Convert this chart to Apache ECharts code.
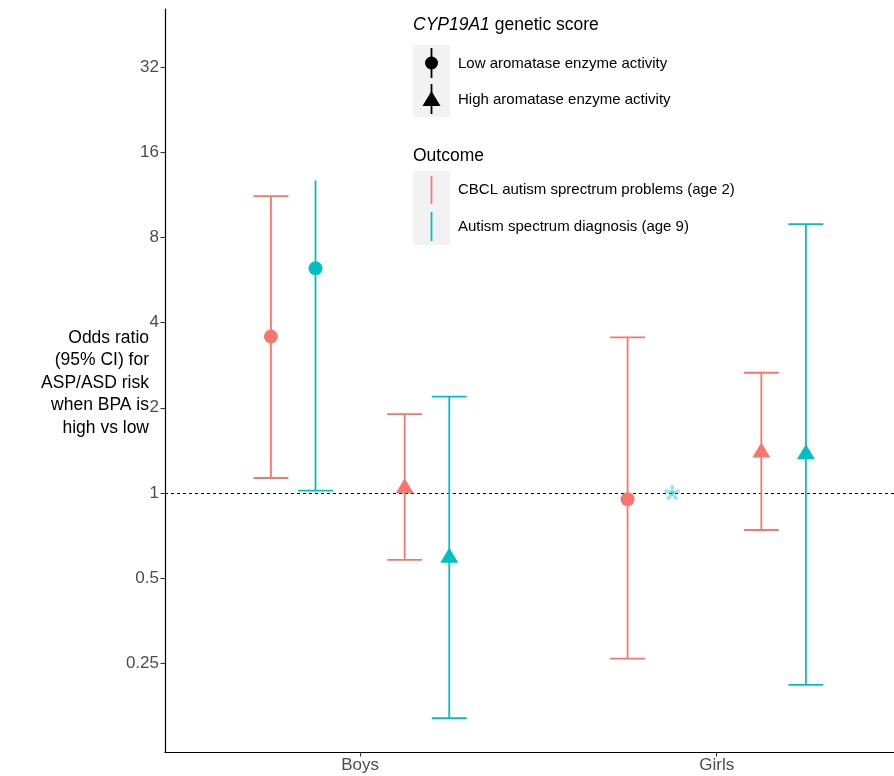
<!DOCTYPE html>
<html>
<head>
<meta charset="utf-8">
<style>
  html, body { margin: 0; padding: 0; background: #fff; }
  #chart-container { width: 894px; height: 776px; }
</style>
<script src="https://cdn.jsdelivr.net/npm/echarts@6.0.0/dist/echarts.min.js"></script>
</head>
<body>
<div id="chart-container"></div>
<script>
// Categories and tick labels
const categories = ["Boys", "Girls"];
const yTicks = [0.25, 0.5, 1, 2, 4, 8, 16, 32];

// Low aromatase activity, CBCL (age 2)
const orLowCbcl = [3.57, 0.95];
const loLowCbcl = [1.13, 0.26];
const hiLowCbcl = [11.2, 3.55];
// Low aromatase activity, ASD diagnosis (age 9); girls not estimable
const orLowAsd = [6.22, null];
const loLowAsd = [1.02, null];
const hiLowAsd = [12.7, null];
const capLowAsd = [false, true];
const notEstimable = [null, 1];
// High aromatase activity, CBCL (age 2)
const orHighCbcl = [1.04, 1.39];
const loHighCbcl = [0.58, 0.74];
const hiHighCbcl = [1.90, 2.66];
// High aromatase activity, ASD diagnosis (age 9)
const orHighAsd = [0.59, 1.37];
const loHighAsd = [0.16, 0.21];
const hiHighAsd = [2.19, 8.92];

const RED = "#F8766D";
const TEAL = "#00BFC4";
const FONT = "'Liberation Sans', Arial, Helvetica, sans-serif";
const dodge = [-0.25, -0.125, 0.125, 0.25];
const capHalf = 0.049;

function barData(lo, hi, off, caps) {
  const out = [];
  categories.forEach((c, i) => {
    if (lo[i] == null) return;
    out.push([i + 1 + off, lo[i], hi[i], caps ? (caps[i] ? 1 : 0) : 1]);
  });
  return out;
}
function pointData(or, off) {
  const out = [];
  categories.forEach((c, i) => {
    if (or[i] == null) return;
    out.push([i + 1 + off, or[i]]);
  });
  return out;
}

function renderErrorBar(params, api) {
  const x = api.value(0), lo = api.value(1), hi = api.value(2), capHi = api.value(3);
  const style = { stroke: api.visual("color"), lineWidth: 1.8 };
  const pLo = api.coord([x, lo]), pHi = api.coord([x, hi]);
  const children = [
    { type: "line", shape: { x1: pLo[0], y1: pLo[1], x2: pHi[0], y2: pHi[1] }, style: style }
  ];
  const a = api.coord([x - capHalf, lo]), b = api.coord([x + capHalf, lo]);
  children.push({ type: "line", shape: { x1: a[0], y1: a[1], x2: b[0], y2: b[1] }, style: style });
  if (capHi) {
    const c = api.coord([x - capHalf, hi]), d = api.coord([x + capHalf, hi]);
    children.push({ type: "line", shape: { x1: c[0], y1: c[1], x2: d[0], y2: d[1] }, style: style });
  }
  return { type: "group", children: children };
}

function renderAsterisk(params, api) {
  const p = api.coord([api.value(0), api.value(1)]);
  const r = 8;
  const children = [];
  for (let k = 0; k < 5; k++) {
    const ang = -Math.PI / 2 + k * 2 * Math.PI / 5;
    children.push({
      type: "line",
      shape: { x1: p[0], y1: p[1], x2: p[0] + r * Math.cos(ang), y2: p[1] + r * Math.sin(ang) },
      style: { stroke: "rgba(0,191,196,0.4)", lineWidth: 3.2 }
    });
  }
  return { type: "group", children: children };
}

const combos = [
  { or: orLowCbcl, lo: loLowCbcl, hi: hiLowCbcl, caps: null, color: RED, shape: "circle" },
  { or: orLowAsd, lo: loLowAsd, hi: hiLowAsd, caps: capLowAsd, color: TEAL, shape: "circle" },
  { or: orHighCbcl, lo: loHighCbcl, hi: hiHighCbcl, caps: null, color: RED, shape: "triangle" },
  { or: orHighAsd, lo: loHighAsd, hi: hiHighAsd, caps: null, color: TEAL, shape: "triangle" }
];

const series = [];
combos.forEach((cb, k) => {
  series.push({
    type: "custom",
    renderItem: renderErrorBar,
    encode: { x: 0, y: [1, 2] },
    itemStyle: { color: cb.color },
    data: barData(cb.lo, cb.hi, dodge[k], cb.caps),
    z: 2,
    silent: true
  });
});
combos.forEach((cb, k) => {
  series.push({
    type: "scatter",
    symbol: cb.shape,
    symbolSize: cb.shape === "circle" ? 14 : [18, 15],
    symbolOffset: cb.shape === "circle" ? [0, 0] : [0, -2.5],
    itemStyle: { color: cb.color, opacity: 1 },
    data: pointData(cb.or, dodge[k]),
    z: 3,
    silent: true
  });
});
series.push({
  type: "custom",
  renderItem: renderAsterisk,
  encode: { x: 0, y: 1 },
  data: pointData(notEstimable, dodge[1]),
  z: 3,
  silent: true,
  markLine: {
    silent: true,
    symbol: "none",
    label: { show: false },
    lineStyle: { color: "#000", width: 1, type: [3, 3] },
    data: [{ yAxis: 1 }],
    z: 1
  }
});

const legendTextStyle = { fontFamily: FONT, fontSize: 15, fill: "#000", verticalAlign: "middle" };
const graphic = [
  {
    type: "text", left: 413, top: 16,
    style: {
      text: "{i|CYP19A1} genetic score",
      fontFamily: FONT, fontSize: 17.5, fill: "#000",
      rich: { i: { fontStyle: "italic", fontFamily: FONT, fontSize: 17.5, fill: "#000" } }
    }
  },
  { type: "rect", shape: { x: 413, y: 45, width: 37, height: 72 }, style: { fill: "#F2F2F2" } },
  { type: "line", shape: { x1: 431.5, y1: 48, x2: 431.5, y2: 78 }, style: { stroke: "#000", lineWidth: 1.8 } },
  { type: "circle", shape: { cx: 431.5, cy: 63, r: 6.5 }, style: { fill: "#000" } },
  { type: "line", shape: { x1: 431.5, y1: 84, x2: 431.5, y2: 114 }, style: { stroke: "#000", lineWidth: 1.8 } },
  { type: "polygon", shape: { points: [[431.5, 91], [440.5, 106], [422.5, 106]] }, style: { fill: "#000" } },
  { type: "text", x: 458, y: 64, style: Object.assign({ text: "Low aromatase enzyme activity" }, legendTextStyle) },
  { type: "text", x: 458, y: 100, style: Object.assign({ text: "High aromatase enzyme activity" }, legendTextStyle) },
  {
    type: "text", left: 413, top: 147,
    style: { text: "Outcome", fontFamily: FONT, fontSize: 17.5, fill: "#000" }
  },
  { type: "rect", shape: { x: 413, y: 171, width: 37, height: 74 }, style: { fill: "#F2F2F2" } },
  { type: "line", shape: { x1: 431.5, y1: 176, x2: 431.5, y2: 204 }, style: { stroke: RED, lineWidth: 1.8 } },
  { type: "line", shape: { x1: 431.5, y1: 212, x2: 431.5, y2: 241 }, style: { stroke: TEAL, lineWidth: 1.8 } },
  { type: "text", x: 458, y: 190, style: Object.assign({ text: "CBCL autism sprectrum problems (age 2)" }, legendTextStyle) },
  { type: "text", x: 458, y: 227, style: Object.assign({ text: "Autism spectrum diagnosis (age 9)" }, legendTextStyle) },
  {
    type: "text", x: 149, y: 383,
    style: {
      text: "Odds ratio\n(95% CI) for\nASP/ASD risk\nwhen BPA is\nhigh vs low",
      fontFamily: FONT, fontSize: 17.5, fill: "#000", align: "right", verticalAlign: "middle",
      lineHeight: 22.5
    }
  }
];

const dom = document.getElementById("chart-container");
const myChart = echarts.init(dom, null, { renderer: "canvas" });

const option = {
  animation: false,
  backgroundColor: "#fff",
  grid: { left: 165, right: 0, top: 9, bottom: 24, containLabel: false, outerBoundsMode: "none" },
  xAxis: {
    type: "value",
    min: 0.453,
    max: 2.497,
    splitLine: { show: false },
    axisLine: { lineStyle: { color: "#000", width: 1.2 } },
    axisTick: { customValues: [1, 2], length: 4.5, lineStyle: { color: "#333" } },
    axisLabel: {
      customValues: [1, 2],
      formatter: (v) => categories[Math.round(v) - 1],
      color: "#4D4D4D", fontSize: 17, fontFamily: FONT, margin: 5
    }
  },
  yAxis: {
    type: "log",
    logBase: 2,
    min: 0.1216,
    max: 51.3,
    splitLine: { show: false },
    axisLine: { lineStyle: { color: "#000", width: 1.2 } },
    axisTick: { customValues: yTicks, length: 4.5, lineStyle: { color: "#333" } },
    axisLabel: {
      customValues: yTicks,
      formatter: (v) => String(+v.toPrecision(6)),
      color: "#4D4D4D", fontSize: 17, fontFamily: FONT, margin: 6
    }
  },
  graphic: graphic,
  series: series
};

myChart.setOption(option);
window.addEventListener("resize", myChart.resize);
</script>
</body>
</html>
